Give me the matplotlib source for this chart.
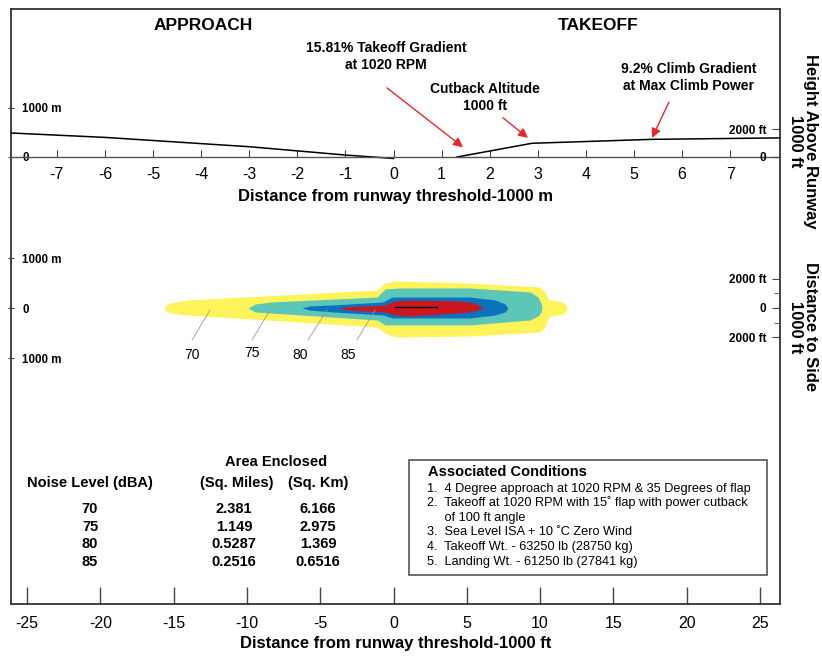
import numpy as np
import matplotlib.pyplot as plt
from matplotlib.patches import Rectangle

plt.rcParams['font.family'] = ['Liberation Sans', 'DejaVu Sans']
plt.rcParams['axes.unicode_minus'] = False

# flight profile, distance in km, height in m
approach_x = [-7.95, -6.0, -3.0, -1.0, 0.0]
approach_h = [490, 400, 210, 40, -30]
takeoff_x = [1.32, 2.88, 5.37, 8.03]
takeoff_h = [0, 280, 360, 390]

# noise footprint, 1000 ft (x along runway, half widths up / down)
c70_x = [-15.65, -15.5, -15.24, -14.09, -7.54, -1.13, -0.58, 0.10, 5.22, 9.99, 10.33, 10.54, 10.68, 11.56, 11.78, 11.84]
c70_up = [0, 0.2, 0.34, 0.55, 0.89, 1.23, 1.71, 1.85, 1.71, 1.44, 1.10, 0.62, 0.55, 0.41, 0.2, 0]
c70_lo = [0, -0.2, -0.34, -0.48, -0.89, -1.30, -1.71, -1.99, -1.92, -1.64, -1.30, -0.70, -0.55, -0.41, -0.2, 0]

c75_x = [-9.92, -9.45, -8.42, -1.13, -0.58, 0.44, 5.22, 9.31, 9.86, 10.06, 10.13]
c75_up = [0, 0.27, 0.41, 0.75, 1.30, 1.37, 1.37, 1.10, 0.75, 0.35, 0]
c75_lo = [0, -0.27, -0.34, -0.82, -1.16, -1.16, -1.16, -0.82, -0.55, -0.3, 0]

c80_x = [-6.24, -5.70, -4.13, -0.72, -0.10, 0.44, 5.22, 6.92, 7.61, 7.81]
c80_up = [0, 0.14, 0.21, 0.41, 0.75, 0.75, 0.75, 0.55, 0.27, 0]
c80_lo = [0, -0.14, -0.27, -0.48, -0.68, -0.68, -0.68, -0.48, -0.27, 0]

c85_x = [-3.79, -3.31, -2.63, -0.58, 0.10, 1.13, 4.54, 5.56, 6.11]
c85_up = [0, 0.07, 0.10, 0.20, 0.48, 0.55, 0.48, 0.34, 0]
c85_lo = [0, -0.10, -0.17, -0.27, -0.48, -0.55, -0.34, -0.20, 0]

runway_x = [0.1, 2.95]

levels = ['70', '75', '80', '85']
sq_miles = ['2.381', '1.149', '0.5287', '0.2516']
sq_km = ['6.166', '2.975', '1.369', '0.6516']
conditions = ['1.  4 Degree approach at 1020 RPM & 35 Degrees of flap',
              '2.  Takeoff at 1020 RPM with 15\u02da flap with power cutback',
              '     of 100 ft angle',
              '3.  Sea Level ISA + 10 \u02daC Zero Wind',
              '4.  Takeoff Wt. - 63250 lb (28750 kg)',
              '5.  Landing Wt. - 61250 lb (27841 kg)']

W, H = 822, 656


def box(l, t, r, b):
    return [l / W, 1 - b / H, (r - l) / W, (b - t) / H]


def fx(x):
    return x / W


def fy(y):
    return 1 - y / H


ft_lim = ((11 - 393.5) / 14.66, (780 - 393.5) / 14.66)
km_lim = (ft_lim[0] * 0.3048, ft_lim[1] * 0.3048)

fig = plt.figure(figsize=(8.22, 6.56), dpi=100)

# outer frame with the 1000 ft axis
ax = fig.add_axes(box(11, 9, 780, 604))
ax.set_xlim(ft_lim)
ax.set_ylim(0, 1)
ax.set_yticks([])
ax.set_xticks(range(-25, 26, 5))
ax.tick_params(axis='x', direction='in', length=12, width=1, color='#444', pad=9, labelsize=11.5)
ax.set_xlabel('Distance from runway threshold-1000 ft', fontsize=12, fontweight='bold', labelpad=3.5)
for s in ax.spines.values():
    s.set_color('#333')
    s.set_linewidth(1.3)

# height profile
at = fig.add_axes(box(11, 9, 780, 157))
at.set_facecolor('none')
at.set_xlim(km_lim)
at.set_ylim(0, 148 / 49 * 1000)
for s in ['top', 'left', 'right']:
    at.spines[s].set_visible(False)
at.spines['bottom'].set_color('#555')
at.spines['bottom'].set_linewidth(1)
at.set_xticks(range(-7, 8))
at.tick_params(axis='x', direction='in', length=5, color='#444', pad=7, labelsize=11.5)
at.set_xlabel('Distance from runway threshold-1000 m', fontsize=12, fontweight='bold', labelpad=5.5)

at.plot(approach_x, approach_h, color='black', lw=1.1, clip_on=False)
at.plot(takeoff_x, takeoff_h, color='black', lw=1.1, clip_on=False)

atr = at.twinx()
atr.set_ylim(0, 148 / 28 * 2000)
for s in atr.spines.values():
    s.set_visible(False)
atr.set_yticks([0, 2000])
atr.set_yticklabels(['0', '2000 ft'])
atr.tick_params(axis='y', direction='in', length=6, color='#444', pad=-10, labelsize=8.5)
for lbl in atr.get_yticklabels():
    lbl.set_horizontalalignment('right')
    lbl.set_fontweight('bold')

at.yaxis.tick_left()
at.set_yticks([0, 1000])
at.set_yticklabels(['0', '1000 m'])
at.tick_params(axis='y', direction='inout', length=5, color='#444', pad=-10.7, labelsize=8.3)
for lbl in at.get_yticklabels():
    lbl.set_horizontalalignment('left')
    lbl.set_fontweight('bold')

at.text(-3.96, 2690, 'APPROACH', ha='center', va='center', fontsize=12.5, fontweight='bold')
at.text(4.25, 2690, 'TAKEOFF', ha='center', va='center', fontsize=12.5, fontweight='bold')
at.text(-0.156, 2050, '15.81% Takeoff Gradient\nat 1020 RPM', ha='center', va='center',
        fontsize=10, fontweight='bold', linespacing=1.25)
at.text(1.9, 1210, 'Cutback Altitude\n1000 ft', ha='center', va='center',
        fontsize=10, fontweight='bold', linespacing=1.25)
at.text(6.14, 1630, '9.2% Climb Gradient\nat Max Climb Power', ha='center', va='center',
        fontsize=10, fontweight='bold', linespacing=1.25)
arrow = dict(arrowstyle='-|>', color='#E8262C', lw=1, mutation_scale=14, shrinkA=0, shrinkB=0)
at.annotate('', xy=(1.445, 200), xytext=(-0.135, 1410), arrowprops=arrow)
at.annotate('', xy=(2.796, 390), xytext=(2.276, 800), arrowprops=arrow)
at.annotate('', xy=(5.374, 390), xytext=(5.727, 1120), arrowprops=arrow)

# noise footprint
am = fig.add_axes(box(11, 200, 780, 420))
am.set_facecolor('none')
am.set_xlim(ft_lim)
am.set_ylim((308 - 420) / 14.6, (308 - 200) / 14.6)
for s in am.spines.values():
    s.set_visible(False)
am.set_xticks([])

am.fill_between(c70_x, c70_lo, c70_up, color='#FFF35A', lw=0)
am.fill_between(c75_x, c75_lo, c75_up, color='#5CC6B8', lw=0)
am.fill_between(c80_x, c80_lo, c80_up, color='#0B72BD', lw=0)
am.fill_between(c85_x, c85_lo, c85_up, color='#CB1820', lw=0)
am.plot(runway_x, [0.07, 0.07], color='black', lw=1)

leader_x = [(-13.74, -12.52), (-9.65, -8.42), (-5.83, -4.54), (-2.49, -1.26)]
label_pos = [(-13.74, -3.22), (-9.65, -3.08), (-6.38, -3.22), (-3.10, -3.22)]
for lev, lx, lp in zip(levels, leader_x, label_pos):
    am.plot(lx, [-2.19, -0.14], color='#999', lw=0.6)
    am.text(lp[0], lp[1], lev, ha='center', va='center', fontsize=10)

amm = am.twinx()
amm.set_ylim((308 - 420) / 50 * 1000, (308 - 200) / 50 * 1000)
for s in amm.spines.values():
    s.set_visible(False)
amm.yaxis.tick_left()
amm.set_yticks([-1000, 0, 1000])
amm.set_yticklabels(['1000 m', '0', '1000 m'])
amm.tick_params(axis='y', direction='inout', length=5, color='#444', pad=-10.7, labelsize=8.3)
for lbl in amm.get_yticklabels():
    lbl.set_horizontalalignment('left')
    lbl.set_fontweight('bold')

am.yaxis.tick_right()
am.set_yticks([-2, 0, 2])
am.set_yticklabels(['2000 ft', '0', '2000 ft'])
am.set_yticks([-1, 1], minor=True)
am.tick_params(axis='y', which='major', direction='in', length=6, color='#444', pad=-10, labelsize=8.5)
am.tick_params(axis='y', which='minor', direction='in', length=4, color='#444')
for lbl in am.get_yticklabels():
    lbl.set_horizontalalignment('right')
    lbl.set_fontweight('bold')

# side titles
fig.text(fx(803), fy(141), 'Height Above Runway\n1000 ft', rotation=270, ha='center', va='center',
         fontsize=12, fontweight='bold', linespacing=1.0)
fig.text(fx(803), fy(327), 'Distance to Side\n1000 ft', rotation=270, ha='center', va='center',
         fontsize=12, fontweight='bold', linespacing=1.0)

# area table
fig.text(fx(276), fy(462), 'Area Enclosed', ha='center', va='center', fontsize=10.5, fontweight='bold')
fig.text(fx(90), fy(483), 'Noise Level (dBA)', ha='center', va='center', fontsize=10.5, fontweight='bold')
fig.text(fx(237), fy(483), '(Sq. Miles)', ha='center', va='center', fontsize=10.5, fontweight='bold')
fig.text(fx(318), fy(483), '(Sq. Km)', ha='center', va='center', fontsize=10.5, fontweight='bold')
for i in range(len(levels)):
    y = 509 + i * 17.7
    fig.text(fx(90), fy(y), levels[i], ha='center', va='center', fontsize=10.5, fontweight='bold')
    fig.text(fx(234), fy(y), sq_miles[i], ha='center', va='center', fontsize=10.5, fontweight='bold')
    fig.text(fx(318), fy(y), sq_km[i], ha='center', va='center', fontsize=10.5, fontweight='bold')

# conditions box
fig.add_artist(Rectangle((fx(409), fy(575)), (767 - 409) / W, (575 - 460) / H,
                         transform=fig.transFigure, fill=False, edgecolor='#555', lw=1.2))
fig.text(fx(428), fy(472), 'Associated Conditions', ha='left', va='center', fontsize=10.5, fontweight='bold')
cond_y = [489, 503, 518, 532, 547, 562]
for t, y in zip(conditions, cond_y):
    fig.text(fx(427), fy(y), t, ha='left', va='center', fontsize=9.2)

fig.savefig('out.png', dpi=100)
